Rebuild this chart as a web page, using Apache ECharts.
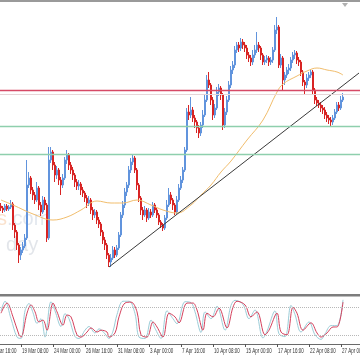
<!DOCTYPE html>
<html><head><meta charset="utf-8">
<script src="https://cdn.jsdelivr.net/npm/echarts@6/dist/echarts.min.js"></script>
<style>html,body{margin:0;padding:0;background:#fff}#c{width:360px;height:360px}</style>
</head><body><div id="c"></div>
<script>
// ---- data (4H bars, forex week days only) ----
const tickLabels = ['16 Mar 16:00','19 Mar 08:00','24 Mar 00:00','26 Mar 16:00','31 Mar 08:00','3 Apr 00:00','7 Apr 16:00','10 Apr 08:00','15 Apr 00:00','17 Apr 16:00','22 Apr 08:00','27 Apr 00:00'];
const firstCandle = 8;          // category index of first candle
const firstOpen = 94;
const closes = [92,90,94,91,93,96,75,68,55,45,50,54,62,115,122,110,105,100,112,95,88,100,95,62,140,148,135,125,130,120,115,122,140,145,135,130,125,118,114,116,110,107,102,97,100,90,85,88,80,76,68,60,55,45,38,42,50,45,52,65,85,95,108,115,130,138,142,130,115,102,90,85,90,82,88,85,95,90,85,78,75,72,82,95,105,100,95,88,100,112,120,130,150,188,185,190,182,178,172,167,175,185,200,220,215,200,185,192,208,212,205,175,188,200,215,230,235,250,255,252,258,255,252,245,242,238,245,250,255,252,245,238,240,242,238,240,250,270,273,235,242,220,225,230,232,240,245,247,240,238,228,218,215,222,225,228,210,200,197,195,192,190,185,182,180,178,182,188,195,192,200,203];
const highs = [97,94,96,96,95,100,98,77,70,57,53,58,66,140,128,124,113,108,118,114,98,104,103,97,153,153,150,138,134,132,123,126,143,150,147,138,133,127,121,120,118,113,109,105,104,102,93,91,90,83,78,70,63,57,47,46,54,53,55,68,88,99,112,118,134,142,145,144,132,117,104,93,94,92,92,91,98,97,92,87,80,77,85,100,112,108,102,97,104,116,124,133,153,192,195,203,193,185,180,175,178,190,205,225,228,217,203,196,213,216,214,207,192,204,219,234,239,254,258,258,262,261,258,255,248,245,250,255,268,258,254,247,244,245,244,243,253,275,283,275,246,244,228,233,236,243,248,250,249,243,240,230,220,226,228,230,230,212,203,200,198,195,193,188,185,183,185,191,198,198,204,207];
const lows = [89,87,88,89,89,91,70,62,50,37,40,47,52,60,112,106,100,96,98,90,84,86,90,58,60,137,130,118,121,115,105,112,120,136,130,126,120,113,110,110,105,103,98,92,94,86,80,82,76,72,64,56,50,41,33,33,40,42,43,50,63,82,92,104,112,127,135,127,110,98,85,80,83,78,80,82,83,87,82,75,72,69,70,80,93,96,90,85,86,98,110,117,128,148,180,182,178,172,167,162,164,172,183,198,212,195,180,182,190,204,200,170,172,185,198,212,226,232,247,248,249,251,248,241,238,234,235,242,247,248,240,235,235,237,234,235,237,248,266,232,232,210,215,222,226,229,237,241,236,234,224,214,205,212,219,222,206,196,194,192,188,186,181,178,176,174,175,180,186,189,190,198];
// moving average read at [category index, value]
const maPoints = [[8,100],[14,95],[24,86],[34,80],[41,83],[48,90],[56,99],[63,97],[69,97],[76,100],[83,95],[89,90],[96,87],[103,95],[108,105],[113,115],[118,128],[123,139],[131,160],[139,180],[146,208],[149,216],[156,224],[161,229],[166,232],[171,230],[176,228],[179,225]];
const trendLine = [[62,33],[187,227]];
const hLevels = [210, 206, 174, 146];
// stochastic (%K teal, %D red) at [category index, value]
const stochK = [[8,72],[10,93],[13,55],[16,15],[18,12],[20,72],[22,88],[24,68],[26,45],[28,55],[30,15],[33,92],[35,72],[38,38],[40,66],[42,55],[45,16],[47,12],[50,30],[52,38],[55,24],[57,33],[60,22],[62,12],[64,28],[66,64],[69,93],[72,93],[75,66],[77,15],[80,12],[83,52],[85,34],[88,12],[91,72],[94,55],[96,44],[100,92],[103,90],[105,70],[108,25],[110,70],[113,55],[116,82],[120,30],[123,84],[125,95],[129,86],[132,55],[135,74],[139,13],[141,28],[145,72],[147,22],[150,16],[153,84],[155,64],[158,26],[162,48],[165,20],[168,10],[170,22],[173,40],[176,40],[179,96]];
const stochD = [[8,67],[11,89],[14,59],[17,20],[18,15],[21,67],[23,85],[25,70],[27,48],[29,52],[31,30],[34,89],[36,70],[39,41],[41,63],[43,59],[46,20],[48,15],[51,26],[53,35],[56,26],[58,30],[61,26],[62,15],[65,24],[67,59],[70,89],[73,91],[76,70],[78,20],[81,15],[84,48],[86,37],[89,15],[92,67],[95,59],[97,46],[101,89],[104,89],[106,74],[109,30],[111,67],[114,59],[117,78],[121,35],[124,80],[126,93],[130,85],[133,59],[136,70],[140,20],[142,30],[146,67],[148,26],[151,20],[154,80],[156,67],[159,30],[163,46],[166,24],[168,15],[171,24],[174,37],[176,37],[179,91]];
const stochLevels = [80, 20];
const nCats = 188;

// categories: 4H bars Mon-Fri starting 16 Mar 2020 08:00
const months = ['Jan','Feb','Mar','Apr','May','Jun','Jul','Aug','Sep','Oct','Nov','Dec'];
const categories = [];
let t = Date.UTC(2020, 2, 16, 8);
while (categories.length < nCats) {
  const d = new Date(t);
  const wd = d.getUTCDay();
  if (wd !== 0 && wd !== 6) {
    categories.push(d.getUTCDate() + ' ' + months[d.getUTCMonth()] + ' ' + String(d.getUTCHours()).padStart(2,'0') + ':00');
  }
  t += 4 * 3600 * 1000;
}

const candles = closes.map((c, i) => [firstCandle + i, i === 0 ? firstOpen : closes[i-1], c, lows[i], highs[i]]);
const tickShow = (i) => i >= 2 && (i - 2) % 16 === 0;

const chart = echarts.init(document.getElementById('c'), null, {renderer: 'canvas'});
const baseGraphics = [
  {type: 'rect', shape: {x: 0, y: 0, width: 360, height: 2}, style: {fill: '#9a9a9a'}, z: 10},
  {type: 'rect', shape: {x: 0, y: 294, width: 360, height: 2.5}, style: {fill: '#7d7d7d'}, z: 10},
  {type: 'polygon', shape: {points: [[342, 3], [348, 3], [345, 7]]}, style: {fill: '#b0b0b0'}, z: 10},
  {type: 'text', x: -3, y: 209, z: 0, style: {text: '{o|s}{g|.com}', rich: {
     o: {fill: 'rgba(240,170,110,0.35)', fontSize: 20, fontFamily: 'Liberation Sans'},
     g: {fill: 'rgba(160,175,200,0.3)', fontSize: 20, fontFamily: 'Liberation Sans'}}}},
  {type: 'text', x: 6, y: 235, z: 0, style: {text: 'day', fill: 'rgba(160,170,185,0.3)', fontSize: 20, fontFamily: 'Liberation Sans'}}
];
chart.setOption({
  animation: false,
  backgroundColor: '#fff',
  grid: [
    {left: -16, width: 376, top: 3, height: 290, outerBoundsMode: 'none', containLabel: false},
    {left: -16, width: 376, top: 298, height: 46, outerBoundsMode: 'none', containLabel: false}
  ],
  xAxis: [
    {type: 'category', gridIndex: 0, data: categories, boundaryGap: true,
     axisLine: {show: false}, axisTick: {show: false}, axisLabel: {show: false}, splitLine: {show: false}},
    {type: 'category', gridIndex: 1, data: categories, boundaryGap: true,
     axisLine: {show: true, lineStyle: {color: '#6a6a6a', width: 1}},
     axisTick: {show: true, interval: (i) => tickShow(i), alignWithLabel: true, length: 3, lineStyle: {color: '#555'}},
     axisLabel: {show: false},
     splitLine: {show: false}}
  ],
  yAxis: [
    {type: 'value', gridIndex: 0, min: 7, max: 297, show: false, splitLine: {show: false}},
    {type: 'value', gridIndex: 1, min: 0, max: 100, show: false, splitLine: {show: false}}
  ],
  series: [
    {type: 'candlestick', xAxisIndex: 0, yAxisIndex: 0, data: candles,
     encode: {x: 0, y: [1, 2, 3, 4]}, barWidth: 1.4,
     itemStyle: {color: '#8fb4ea', color0: '#e02a2a', borderColor: '#6194dd', borderColor0: '#d82424', borderWidth: 1},
     markLine: {silent: true, symbol: 'none', label: {show: false},
       data: [
         {yAxis: hLevels[0], lineStyle: {color: '#d64a66', width: 1.3, type: 'solid'}},
         {yAxis: hLevels[1], lineStyle: {color: '#e6d6d8', width: 1, type: 'solid'}},
         {yAxis: hLevels[2], lineStyle: {color: '#8ecfad', width: 1.3, type: 'solid'}},
         {yAxis: hLevels[3], lineStyle: {color: '#8ecfad', width: 1.3, type: 'solid'}}
       ]}},
    {type: 'line', xAxisIndex: 0, yAxisIndex: 0, data: maPoints, smooth: 0.4, symbol: 'none',
     lineStyle: {color: '#f1bd6c', width: 1}, z: 3},
    {type: 'line', xAxisIndex: 0, yAxisIndex: 0, data: trendLine, symbol: 'none',
     lineStyle: {color: '#3a3a3a', width: 1}, z: 4},
    {type: 'line', xAxisIndex: 1, yAxisIndex: 1, data: stochK, smooth: 0.35, symbol: 'none',
     lineStyle: {color: '#9ccdd8', width: 1},
     markLine: {silent: true, symbol: 'none', label: {show: false},
       data: stochLevels.map(v => ({yAxis: v})), lineStyle: {color: '#b8b8b8', width: 1, type: 'dotted'}}},
    {type: 'line', xAxisIndex: 1, yAxisIndex: 1, data: stochD, smooth: 0.35, symbol: 'none',
     lineStyle: {color: '#d5405c', width: 1}}
  ],
  graphic: baseGraphics
});

// condensed time-axis labels, positioned through the axis scale
const labelGraphics = tickLabels.map((txt, n) => {
  const idx = 2 + 16 * n;
  const px = chart.convertToPixel({xAxisIndex: 1}, idx);
  const py = chart.convertToPixel({yAxisIndex: 1}, 0);
  return {type: 'text', x: px + 1, y: py + 3, scaleX: 0.6, z: 10,
    style: {text: txt, fill: '#333', fontSize: 7.5, fontFamily: 'Liberation Sans', textVerticalAlign: 'top'}};
});
chart.setOption({graphic: baseGraphics.concat(labelGraphics)});
</script></body></html>
